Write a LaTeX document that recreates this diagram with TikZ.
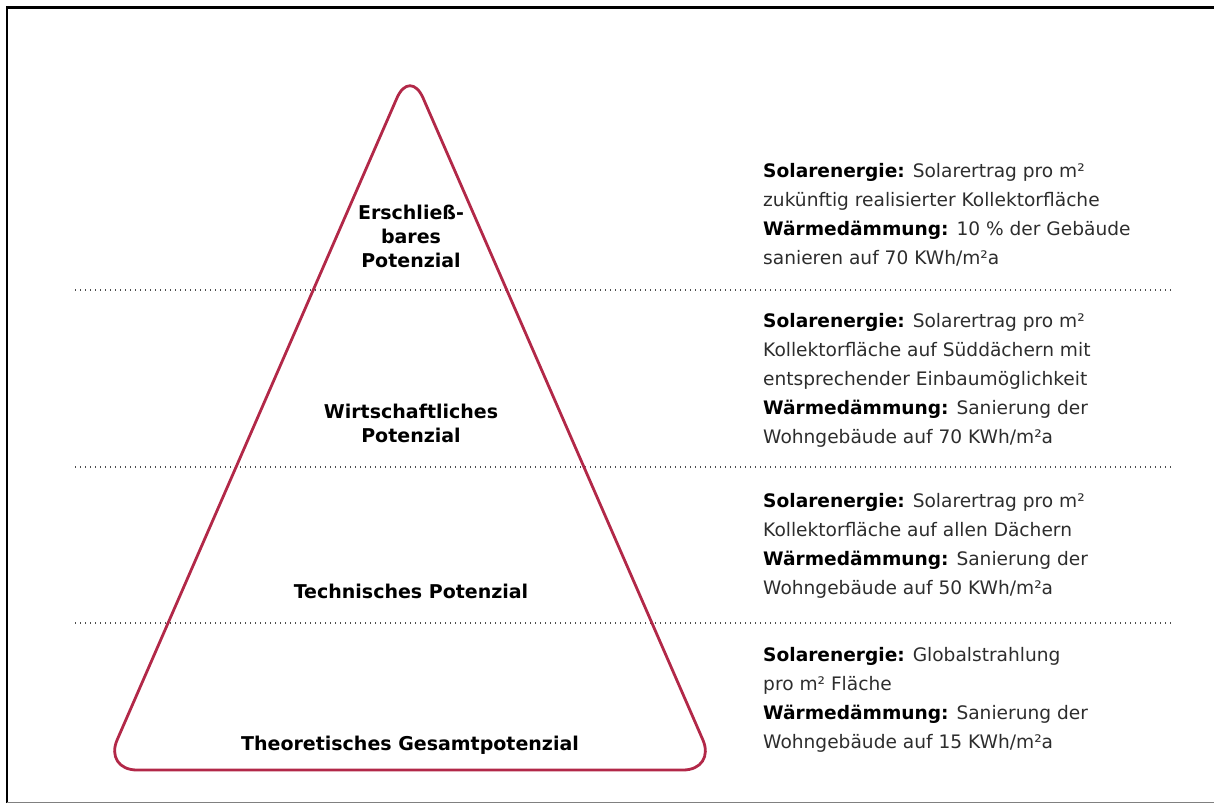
\documentclass[tikz,border=0pt]{standalone}
\usepackage{fontspec}
\setmainfont{DejaVu Sans}
\definecolor{pyrared}{RGB}{178,40,72}
\definecolor{txtgray}{RGB}{45,45,45}
\newcommand{\hd}[1]{\textbf{\color{black}#1}}

\begin{document}
\begin{tikzpicture}[x=1pt,y=-1pt,
  tier/.style={font=\fontsize{19}{24}\selectfont\bfseries,align=center,inner sep=0pt,anchor=base},
  info/.style={font=\fontsize{18.6}{29}\selectfont,text=txtgray,align=left,inner sep=0pt,anchor=base west},
  sep/.style={line width=1.4pt,dash pattern=on 1.4pt off 3.6pt,gray!60!black}]
\useasboundingbox (0,0) rectangle (1214,803);
% frame
\draw[line width=2.2pt](7,803)--(7,7.5)--(1214,7.5);
\draw[gray,line width=1pt](7,802)--(1214,802);
% separators
\draw[sep](75,290)--(1173,290);
\draw[sep](75,467)--(1173,467);
\draw[sep](75,623)--(1173,623);
% pyramid
\draw[pyrared,line width=2.8pt,rounded corners=33pt](410,770)--(716,770)--(410,68)--(104,770)--cycle;
% levels (base = last line)
\node[tier] (erschl) at (411,267) {Erschließ-\\bares\\Potenzial};
\node[tier] (wirtsch) at (411,442) {Wirtschaftliches\\Potenzial};
\node[tier] (techn) at (411,598) {Technisches Potenzial};
\node[tier] (theor) at (410,750) {Theoretisches Gesamtpotenzial};
% descriptions
\node[info] (infoA) at (763,264) {\hd{Solarenergie:} Solarertrag pro m²\\zukünftig realisierter Kollektorfläche\\\hd{Wärmedämmung:} 10 \% der Gebäude\\sanieren auf 70 KWh/m²a};
\node[info] (infoB) at (763,443) {\hd{Solarenergie:} Solarertrag pro m²\\Kollektorfläche auf Süddächern mit\\entsprechender Einbaumöglichkeit\\\hd{Wärmedämmung:} Sanierung der\\Wohngebäude auf 70 KWh/m²a};
\node[info] (infoC) at (763,594) {\hd{Solarenergie:} Solarertrag pro m²\\Kollektorfläche auf allen Dächern\\\hd{Wärmedämmung:} Sanierung der\\Wohngebäude auf 50 KWh/m²a};
\node[info] (infoD) at (763,748) {\hd{Solarenergie:} Globalstrahlung\\pro m² Fläche\\\hd{Wärmedämmung:} Sanierung der\\Wohngebäude auf 15 KWh/m²a};
\end{tikzpicture}
\end{document}
